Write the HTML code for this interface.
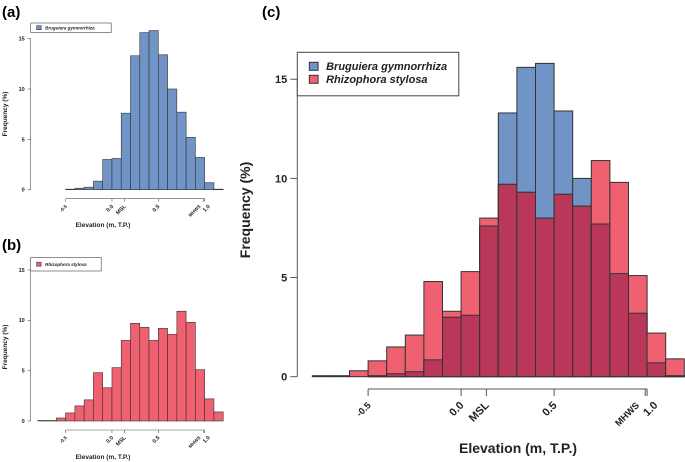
<!DOCTYPE html>
<html><head><meta charset="utf-8"><style>
html,body{margin:0;padding:0;background:#fff;}
svg{display:block;font-family:"Liberation Sans",Arial,sans-serif;}
</style></head><body>
<svg id="fig" width="685" height="462" viewBox="0 0 685 462" xmlns="http://www.w3.org/2000/svg">
<text x="2" y="17" font-size="15" font-weight="bold">(a)</text>
<text x="2" y="250" font-size="15" font-weight="bold">(b)</text>
<text x="262" y="17" font-size="15" font-weight="bold">(c)</text>
</svg>
<script>
const binStarts = [-0.8,-0.7,-0.6,-0.5,-0.4,-0.3,-0.2,-0.1,0.0,0.1,0.2,0.3,0.4,0.5,0.6,0.7,0.8,0.9,1.0,1.1];
const bruguieraValues = [0,0,0,0.05,0.15,0.25,0.85,3.0,3.1,7.6,13.3,15.6,15.8,13.4,10.0,7.7,5.2,3.2,0.7,0.05];
const rhizophoraValues = [0.05,0.05,0.3,0.8,1.5,2.1,4.8,3.3,5.3,8.0,9.7,9.3,8.0,9.2,8.6,10.9,9.8,5.1,2.2,0.9];
const binWidth = 0.1;
const yTicks = [0,5,10,15];
const xTickValues = [-0.5,0.0,0.136,0.5,0.99,1.0];
const xTickLabels = ["-0.5","0.0","MSL","0.5","MHWS","1.0"];

const labelShift = {"MHWS":-0.5,"1.0":0.45};
const BLUE="#7194c6", RED="#ef6170", DARK="#b93859", NS="http://www.w3.org/2000/svg";
const svg=document.getElementById('fig');
function mk(tag,attrs,parent){const e=document.createElementNS(NS,tag);for(const k in attrs)e.setAttribute(k,attrs[k]);(parent||svg).appendChild(e);return e;}

function panel(p){
  const g=mk('g',{});
  
  
  const sx=v=>p.x0+(v-(-0.8))*p.xs;
  const sy=v=>p.y0-v*p.ys;
  binStarts.forEach((b,i)=>{
    const x=sx(b), w=binWidth*p.xs;
    const vals=[];
    if(p.blue) vals.push(['blue',bruguieraValues[i],BLUE]);
    if(p.red) vals.push(['red',rhizophoraValues[i],RED]);
    vals.forEach(([nm,v,c])=>{
      const r=mk('rect',{x:x,y:sy(v),width:w,height:v*p.ys,fill:c,stroke:'#333','stroke-width':p.sw},g);
      
      
    });
    if(p.blue&&p.red){
      const m=Math.min(bruguieraValues[i],rhizophoraValues[i]);
      const r=mk('rect',{x:x,y:sy(m),width:w,height:m*p.ys,fill:DARK,stroke:'#333','stroke-width':p.sw},g);
      
      
    }
  });
  const ya=mk('g',{},g);
  
  
  mk('line',{x1:p.ax,x2:p.ax,y1:sy(0),y2:sy(15),stroke:'#555','stroke-width':p.sw},ya);
  yTicks.forEach(t=>{
    mk('line',{x1:p.ax-p.tl,x2:p.ax,y1:sy(t),y2:sy(t),stroke:'#555','stroke-width':p.sw},ya);
    const tx=mk('text',{x:p.ax-p.tl-3,y:sy(t)+p.fs*0.35,'font-size':p.fs,'text-anchor':'end','font-weight':'bold',fill:'#222'},ya);
    tx.textContent=t;
    
    
  });
  const yt=mk('text',{transform:`translate(${p.ytx},${p.yty}) rotate(-90)`,'font-size':p.tfs,'text-anchor':'middle','font-weight':'bold',fill:'#222'},g);
  yt.textContent='Frequency (%)';
  
  
  const xa=mk('g',{},g);
  
  
  mk('line',{x1:sx(-0.5),x2:sx(1.0),y1:p.xay,y2:p.xay,stroke:'#555','stroke-width':p.sw},xa);
  xTickValues.forEach((v,i)=>{
    const x=sx(v);
    mk('line',{x1:x,x2:x,y1:p.xay,y2:p.xay+p.tl,stroke:'#555','stroke-width':p.sw},xa);
    const lab=xTickLabels[i];
    const dx=(labelShift[lab]||0)*p.fs*1.6;
    const tx=mk('text',{transform:`translate(${x+p.fs*0.3+dx},${p.xay+p.tl+p.fs*0.9}) rotate(-45)`,'font-size':lab.length>3?p.fs*0.85:p.fs,'text-anchor':'end','font-weight':'bold',fill:'#222'},xa);
    tx.textContent=lab;
    
    
  });
  const xt=mk('text',{x:p.xtx,y:p.xty,'font-size':p.tfs,'text-anchor':'middle','font-weight':'bold',fill:'#222'},g);
  xt.textContent='Elevation (m, T.P.)';
  
  
  const lg=mk('g',{},g);
  
  
  mk('rect',{x:p.lx,y:p.ly,width:p.lw,height:p.lh,fill:'#fff',stroke:'#444','stroke-width':p.sw},lg);
  p.entries.forEach((en,i)=>{
    const cy=p.ly+p.lpad+i*p.lstep;
    mk('rect',{x:p.lx+p.lsx,y:cy-p.ss/2,width:p.ss*1.1,height:p.ss,fill:en[1],stroke:'#333','stroke-width':p.sw},lg);
    const t=mk('text',{x:p.lx+p.lsx+p.ss*1.1+p.ltx,y:cy+p.lfs*0.35,'font-size':p.lfs,'font-style':'italic','font-weight':'bold',fill:'#222'},lg);
    t.textContent=en[0];
    
    
  });
}
panel({name:'panel-a',x0:37.8,xs:92.7,y0:189.7,ys:10.07,sw:0.6,ax:30.7,tl:3,fs:5.5,tfs:6.5,ytx:7,yty:114,xay:198.7,xtx:103,xty:227,
  lx:30.7,ly:23,lw:80.5,lh:9.5,lpad:4.7,lstep:0,lsx:6,ss:4,ltx:4,lfs:4.5,blue:true,red:false,entries:[['Bruguiera gymnorrhiza',BLUE]]});
panel({name:'panel-b',x0:37.8,xs:92.7,y0:421,ys:10.07,sw:0.6,ax:30.7,tl:3,fs:5.5,tfs:6.5,ytx:7,yty:347,xay:430,xtx:103,xty:459,
  lx:30.7,ly:257.5,lw:70.5,lh:13.5,lpad:6.7,lstep:0,lsx:6,ss:4,ltx:4,lfs:4.5,blue:false,red:true,entries:[['Rhizophora stylosa',RED]]});
panel({name:'panel-c',x0:312.3,xs:186,y0:376.7,ys:19.83,sw:1,ax:297.3,tl:7,fs:11,tfs:14,ytx:250,yty:210,xay:389,xtx:518,xty:453,
  lx:297.3,ly:52.3,lw:161.5,lh:43.5,lpad:14,lstep:13,lsx:12,ss:8,ltx:8,lfs:11,blue:true,red:true,entries:[['Bruguiera gymnorrhiza',BLUE],['Rhizophora stylosa',RED]]});
</script>
</body></html>
